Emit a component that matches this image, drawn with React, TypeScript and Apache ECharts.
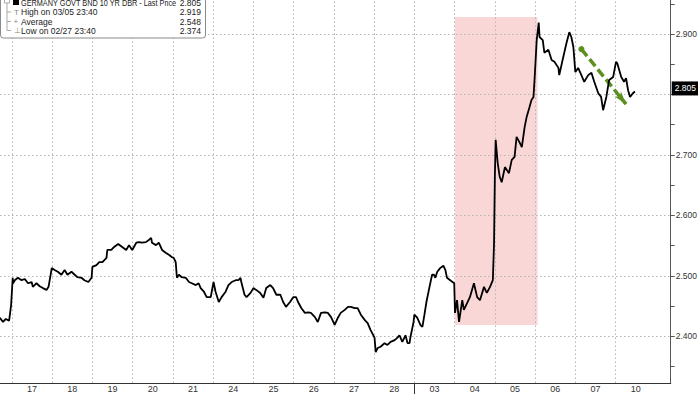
import React, { useEffect, useRef } from "react";
import * as echarts from "echarts";

// Day labels (trading days) and their boundaries (in day units, 0 = start of the 17th)
const dayLabels = ["17", "18", "19", "20", "21", "24", "25", "26", "27", "28", "03", "04", "05", "06", "07", "10"];
const dayBoundaries = [0, 1, 2, 3, 4, 5, 6, 7, 8, 9, 10, 11, 12, 13, 14, 15];
const monthStart = [10];
const yGridValues = [2.4, 2.5, 2.6, 2.7, 2.8, 2.9];
// 2.800 is hidden under the last-price tag in the reference
const yLabelValues = [2.4, 2.5, 2.6, 2.7, 2.9];
const yTickValues = [2.35, 2.4, 2.45, 2.5, 2.55, 2.6, 2.65, 2.7, 2.75, 2.8, 2.85, 2.9, 2.95];

// time in trading-day units
const t = [
  -0.3, -0.22, -0.15, -0.07, -0.02, 0.02, 0.03, 0.07, 0.15, 0.24, 0.32, 0.4, 0.49, 0.52, 0.61, 0.69, 0.77, 0.86, 0.91,
  0.99, 1.06, 1.14, 1.23, 1.31, 1.38, 1.48, 1.56, 1.63, 1.73, 1.8, 1.9, 1.98,
  2.0, 2.1, 2.17, 2.25, 2.35, 2.37, 2.47, 2.54, 2.64, 2.74, 2.84, 2.91, 2.99,
  3.09, 3.16, 3.23, 3.33, 3.41, 3.46, 3.48, 3.58, 3.65, 3.73, 3.83, 3.9, 3.98,
  4.02, 4.07, 4.1, 4.15, 4.22, 4.32, 4.4, 4.47, 4.57, 4.64, 4.69, 4.77, 4.84, 4.94,
  5.01, 5.06, 5.14, 5.21, 5.31, 5.38, 5.46, 5.56, 5.63, 5.68, 5.7, 5.78, 5.83, 5.93,
  6.0, 6.07, 6.17, 6.25, 6.32, 6.42, 6.49, 6.57, 6.67, 6.74, 6.81, 6.91, 6.99,
  7.06, 7.11, 7.19, 7.28, 7.36, 7.43, 7.53, 7.6, 7.68, 7.78, 7.85, 7.93,
  8.02, 8.1, 8.17, 8.27, 8.35, 8.42, 8.52, 8.59, 8.67, 8.77, 8.84, 8.91,
  9.01, 9.04, 9.09, 9.16, 9.26, 9.33, 9.41, 9.51, 9.58, 9.63, 9.7, 9.78, 9.83, 9.88, 9.9, 9.98,
  10.0, 10.07, 10.15, 10.2, 10.25, 10.3, 10.37, 10.44, 10.49, 10.52, 10.57, 10.64, 10.72, 10.77, 10.81, 10.89, 10.99,
  11.01, 11.06, 11.11, 11.19, 11.23, 11.31, 11.38, 11.48, 11.56, 11.63, 11.73, 11.8, 11.88, 11.95, 11.98,
  12.0, 12.02, 12.07, 12.12, 12.17, 12.25, 12.35, 12.42, 12.49, 12.54, 12.62, 12.67, 12.74, 12.79, 12.86, 12.91, 12.96, 12.99,
  13.04, 13.09, 13.11, 13.19, 13.23, 13.33, 13.41, 13.48, 13.58, 13.6, 13.7, 13.78, 13.85, 13.9, 13.95,
  14.0, 14.07, 14.15, 14.22, 14.32, 14.4, 14.47, 14.57, 14.64, 14.69, 14.77, 14.84, 14.94,
  15.01, 15.04, 15.14, 15.21, 15.26, 15.31, 15.36, 15.43, 15.48,
];

// 10-year Bund yield
const yld = [
  2.431, 2.424, 2.429, 2.426, 2.452, 2.497, 2.488, 2.493, 2.497, 2.493, 2.495, 2.488, 2.49, 2.482, 2.488, 2.483, 2.48, 2.477, 2.482,
  2.513, 2.51, 2.507, 2.502, 2.51, 2.502, 2.507, 2.502, 2.498, 2.497, 2.493, 2.49, 2.497,
  2.515, 2.518, 2.523, 2.523, 2.53, 2.543, 2.543, 2.548, 2.553, 2.548, 2.543, 2.551, 2.543,
  2.555, 2.556, 2.555, 2.556, 2.56, 2.563, 2.555, 2.551, 2.555, 2.543, 2.538, 2.535, 2.531,
  2.53, 2.523, 2.497, 2.502, 2.498, 2.497, 2.49, 2.488, 2.485, 2.488, 2.48, 2.474, 2.465, 2.465,
  2.49, 2.474, 2.457, 2.465, 2.474, 2.485, 2.49, 2.493, 2.493, 2.497, 2.49, 2.469, 2.465, 2.472,
  2.48, 2.477, 2.472, 2.464, 2.48, 2.485, 2.48, 2.469, 2.469, 2.457, 2.449, 2.457, 2.465,
  2.465, 2.457, 2.447, 2.439, 2.44, 2.439, 2.432, 2.424, 2.439, 2.44, 2.439, 2.432,
  2.419, 2.431, 2.439, 2.444, 2.449, 2.449, 2.447, 2.447, 2.436, 2.427, 2.422, 2.411,
  2.398, 2.374, 2.381, 2.383, 2.389, 2.386, 2.391, 2.394, 2.398, 2.402, 2.391, 2.402, 2.389, 2.389, 2.398, 2.424,
  2.436, 2.431, 2.419, 2.416, 2.436, 2.457, 2.48, 2.502, 2.502, 2.497, 2.507, 2.513, 2.517, 2.51, 2.497, 2.493, 2.488,
  2.439, 2.46, 2.424, 2.46, 2.444, 2.455, 2.465, 2.488, 2.465, 2.46, 2.482, 2.472, 2.482, 2.493, 2.555,
  2.664, 2.725, 2.687, 2.664, 2.655, 2.68, 2.67, 2.692, 2.697, 2.73, 2.72, 2.713, 2.746, 2.763, 2.779, 2.791, 2.796, 2.829,
  2.89, 2.919, 2.895, 2.89, 2.869, 2.874, 2.857, 2.854, 2.844, 2.832, 2.862, 2.885, 2.903, 2.895, 2.879,
  2.837, 2.844, 2.832, 2.821, 2.832, 2.836, 2.821, 2.802, 2.796, 2.774, 2.796, 2.824, 2.829,
  2.854, 2.852, 2.829, 2.821, 2.827, 2.807, 2.796, 2.802, 2.805,
];

// Highlighted period (time, yield corners)
const highlightStart = [11.01, 2.928];
const highlightEnd = [13.06, 2.419];
// Trend arrow (time, yield)
const arrowStart = [14.15, 2.875];
const arrowEnd = [15.26, 2.784];

const lastPrice = 2.805;
const highValue = 2.919;
const averageValue = 2.548;
const lowValue = 2.374;
const seriesTitle = "GERMANY GOVT BND 10 YR DBR - Last Price";
const legendRows = ["High on 03/05 23:40", "Average", "Low on 02/27 23:40"];

const FONT = '"Liberation Sans", Arial, sans-serif';
const GRID_COLOR = "#b4b4b4";
const GRID_DASH = [1.5, 2.5];

export default function App() {
  const ref = useRef<HTMLDivElement>(null);

  useEffect(() => {
    if (!ref.current) return;
    const chart = echarts.init(ref.current, null, { renderer: "svg" });
    const lineData = t.map((x, i) => [x, yld[i]]);

    const legendFont = `8.5px ${FONT}`;
    const rowY = [3, 12, 21.5, 30.5];
    const values = [lastPrice, highValue, averageValue, lowValue];

    const graphic: any[] = [
      {
        type: "rect",
        shape: { x: 0.5, y: -5, width: 205, height: 43, r: 3 },
        style: { fill: "#fff", stroke: "#8a8a8a", lineWidth: 1 },
        z: 100,
      },
      {
        type: "polyline",
        shape: { points: [[7, 3], [7, 30.5], [11, 30.5]] },
        style: { stroke: "#aaa", lineWidth: 1, fill: null },
        z: 101,
      },
      { type: "line", shape: { x1: 7, y1: 12, x2: 11, y2: 12 }, style: { stroke: "#aaa", lineWidth: 1 }, z: 101 },
      { type: "line", shape: { x1: 7, y1: 21.5, x2: 11, y2: 21.5 }, style: { stroke: "#aaa", lineWidth: 1 }, z: 101 },
      { type: "rect", shape: { x: 4.5, y: -2, width: 5, height: 5 }, style: { fill: "#fff", stroke: "#aaa", lineWidth: 1 }, z: 101 },
      { type: "rect", shape: { x: 13, y: -1, width: 6, height: 6 }, style: { fill: "#000" }, z: 101 },
      { type: "text", x: 14, y: rowY[1], style: { text: "T", font: `8px ${FONT}`, fill: "#888", verticalAlign: "middle" }, z: 101 },
      { type: "text", x: 13.5, y: rowY[2], style: { text: "+", font: `8px ${FONT}`, fill: "#888", verticalAlign: "middle" }, z: 101 },
      { type: "text", x: 14, y: rowY[3], style: { text: "⊥", font: `8px ${FONT}`, fill: "#888", verticalAlign: "middle" }, z: 101 },
    ];
    const labels = [seriesTitle, ...legendRows];
    labels.forEach((txt, i) => {
      graphic.push({
        type: "text",
        x: 21,
        y: rowY[i],
        scaleX: i === 0 ? 0.86 : 1,
        style: { text: txt, font: legendFont, fill: "#222", verticalAlign: "middle" },
        z: 101,
      });
      graphic.push({
        type: "text",
        x: 201,
        y: rowY[i],
        style: { text: values[i].toFixed(3), font: legendFont, fill: "#222", align: "right", verticalAlign: "middle" },
        z: 101,
      });
    });

    chart.setOption({
      animation: false,
      backgroundColor: "#fff",
      grid: { left: 0, right: 25, top: 0, bottom: 11, containLabel: false },
      xAxis: {
        type: "value",
        min: -0.296,
        max: 16.37,
        axisLine: { show: true, onZero: false, lineStyle: { color: "#333", width: 1 } },
        axisTick: { show: true, customValues: monthStart, length: 11, lineStyle: { color: "#333", width: 1 } },
        axisLabel: {
          show: true,
          customValues: dayBoundaries.map((d) => d + 0.5),
          formatter: (v: number) => dayLabels[Math.round(v - 0.5)] ?? "",
          fontSize: 9,
          fontFamily: FONT,
          color: "#333",
          margin: 1,
        },
        splitLine: { show: false },
        minorSplitLine: { show: false },
      },
      yAxis: {
        type: "value",
        position: "right",
        min: 2.3231,
        max: 2.9562,
        axisLine: { show: true, onZero: false, lineStyle: { color: "#555", width: 1 } },
        axisTick: { show: true, customValues: yTickValues, length: 4, lineStyle: { color: "#555" } },
        axisLabel: {
          show: true,
          customValues: yLabelValues,
          formatter: (v: number) => v.toFixed(3),
          fontSize: 8.5,
          fontFamily: FONT,
          color: "#333",
          margin: 5,
        },
        splitLine: { show: false },
        minorSplitLine: { show: false },
      },
      series: [
        {
          type: "line",
          data: lineData,
          symbol: "none",
          lineStyle: { color: "#000", width: 1.8 },
          z: 5,
          markArea: {
            silent: true,
            itemStyle: { color: "rgba(240,150,150,0.38)" },
            data: [[{ coord: highlightStart }, { coord: highlightEnd }]],
          },
          markLine: {
            silent: true,
            symbol: "none",
            label: { show: false },
            lineStyle: { color: GRID_COLOR, type: GRID_DASH, width: 1 },
            data: [
              ...dayBoundaries.map((d) => ({ xAxis: d })),
              ...yGridValues.map((v) => ({ yAxis: v })),
            ],
          },
        },
        {
          type: "line",
          data: [arrowStart, arrowEnd],
          symbol: "none",
          lineStyle: { color: "rgba(0,0,0,0)", width: 0 },
          z: 6,
          markLine: {
            silent: true,
            symbol: ["circle", "arrow"],
            symbolSize: [6, 13],
            label: { show: false },
            lineStyle: { color: "#5b8f1e", type: [9, 4], width: 3.5 },
            data: [[{ coord: arrowStart }, { coord: arrowEnd }]],
          },
        },
        {
          type: "line",
          data: [],
          symbol: "none",
          z: 20,
          markLine: {
            silent: true,
            symbol: "none",
            lineStyle: { color: "rgba(0,0,0,0)", width: 1 },
            label: {
              show: true,
              position: "end",
              formatter: lastPrice.toFixed(3),
              color: "#fff",
              backgroundColor: "#000",
              padding: [3, 2, 2, 3],
              fontSize: 8.5,
              fontFamily: FONT,
              distance: 1,
            },
            data: [{ yAxis: lastPrice }],
          },
        },
      ],
      graphic,
    });

    return () => chart.dispose();
  }, []);

  return (
    <div
      ref={ref}
      style={{ position: "fixed", left: 0, top: 0, width: 700, height: 394, background: "#fff" }}
    />
  );
}
